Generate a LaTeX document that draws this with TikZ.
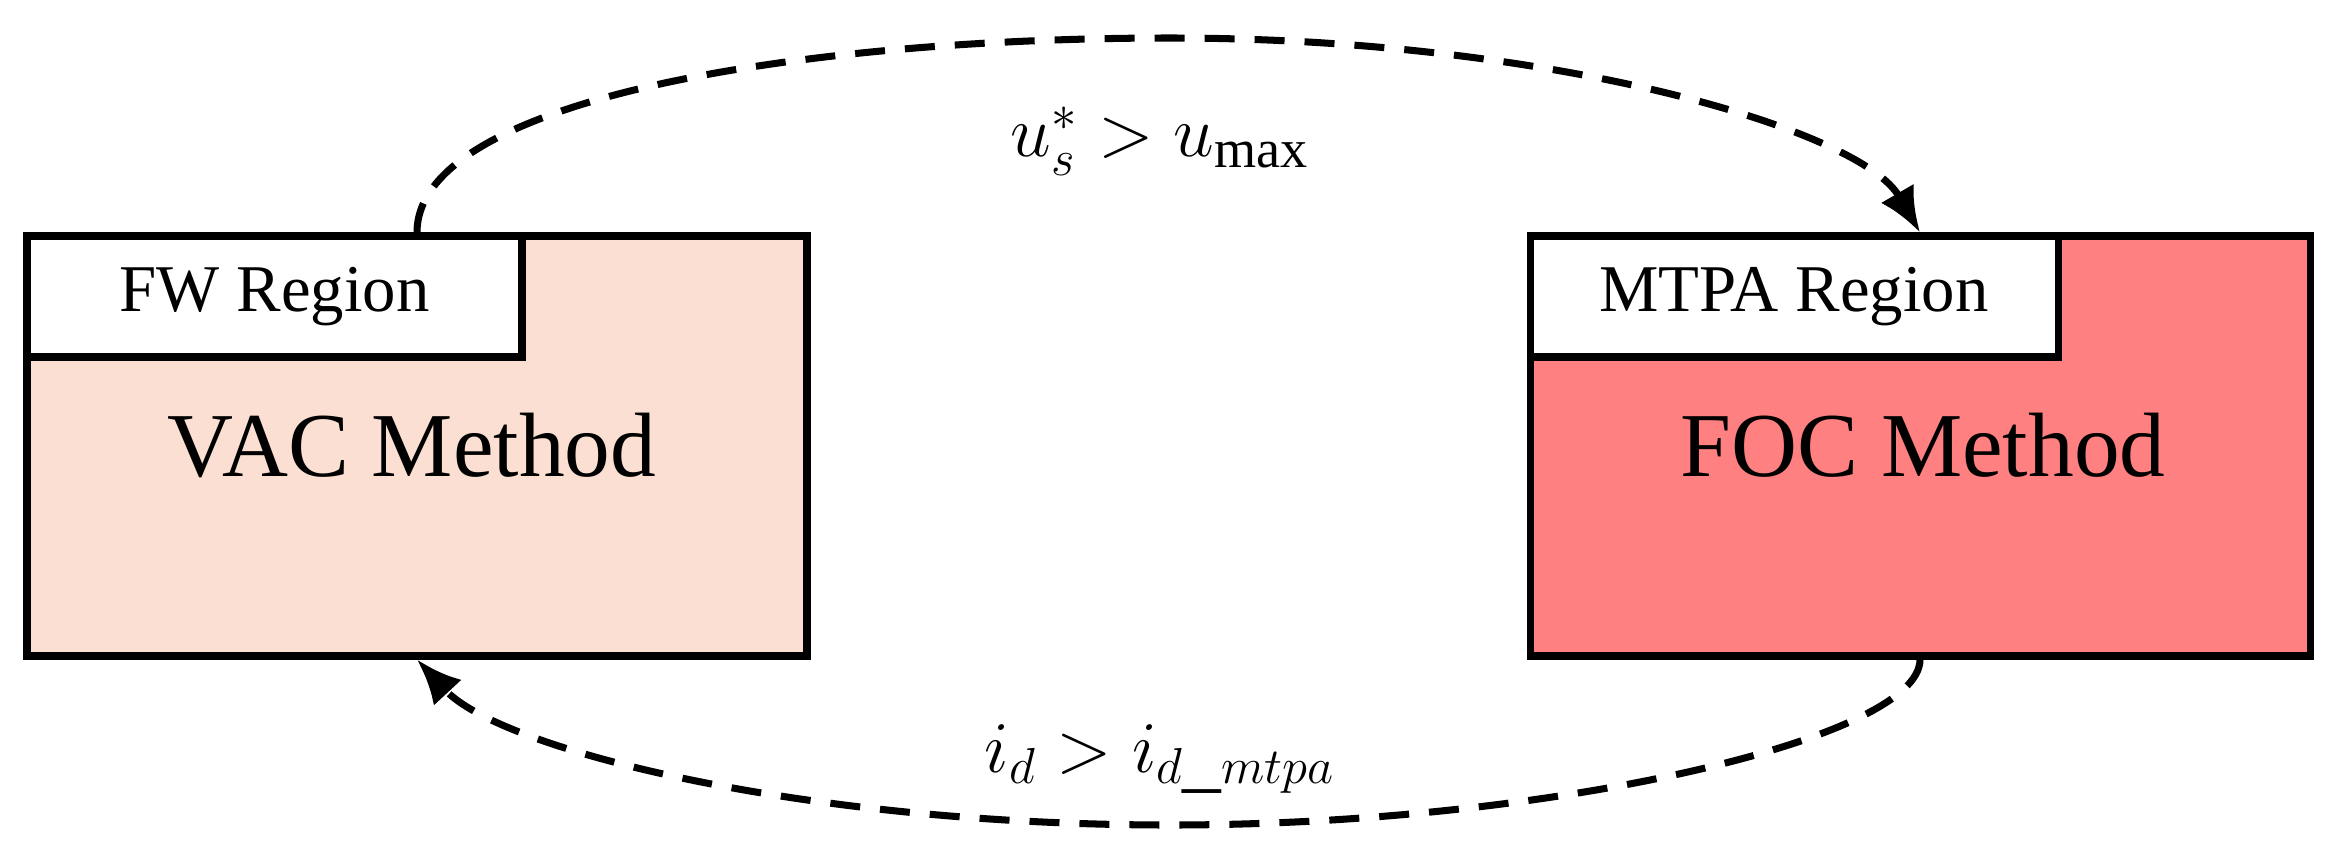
\documentclass[tikz,border=0pt]{standalone}
\usepackage{fontspec}
\setmainfont{Liberation Serif}
\usetikzlibrary{arrows.meta}
\definecolor{lfill}{HTML}{FADFD2}
\definecolor{rfill}{HTML}{FF8080}
\begin{document}
\begin{tikzpicture}[
  box/.style={draw,line width=2pt,minimum width=7.8cm,minimum height=4.2cm,inner sep=0pt},
  tab/.style={draw,line width=2pt,fill=white,minimum height=1.21cm,inner sep=0pt,font=\fontsize{19}{22}\selectfont},
  meth/.style={font=\fontsize{26}{30}\selectfont},
  lbl/.style={font=\fontsize{22}{26}\selectfont},
  conn/.style={line width=2pt,dash pattern=on 0.3cm off 0.2cm,-{Latex[length=0.45cm,width=0.38cm]}}
]
\useasboundingbox (0,0) rectangle (23.41,8.59);
\node[box,fill=lfill] (L) at (4.17,4.13) {};
\node[box,fill=rfill] (R) at (19.20,4.13) {};
\node[tab,minimum width=4.95cm,anchor=north west] (LT) at (L.north west) {FW Region};
\node[tab,minimum width=5.28cm,anchor=north west] (RT) at (R.north west) {MTPA Region};
\node[meth] (LM) at (4.12,4.14) {VAC Method};
\node[meth] (RM) at (19.23,4.14) {FOC Method};
\draw[conn] (L.north) .. controls (4.17,7.6) and (8,8.21) .. (11.7,8.21) .. controls (15.5,8.21) and (18.6,7.3) .. (R.north);
\draw[conn] (R.south) .. controls (19.2,1.2) and (15.5,0.34) .. (11.7,0.34) .. controls (8,0.34) and (5,1.1) .. (L.south);
\node[lbl] (t1) at (11.6,7.18) {$u_s^{*}>u_{\max}$};
\node[lbl] (t2) at (11.6,1.0) {$i_d>i_{d\_mtpa}$};
\end{tikzpicture}
\end{document}
